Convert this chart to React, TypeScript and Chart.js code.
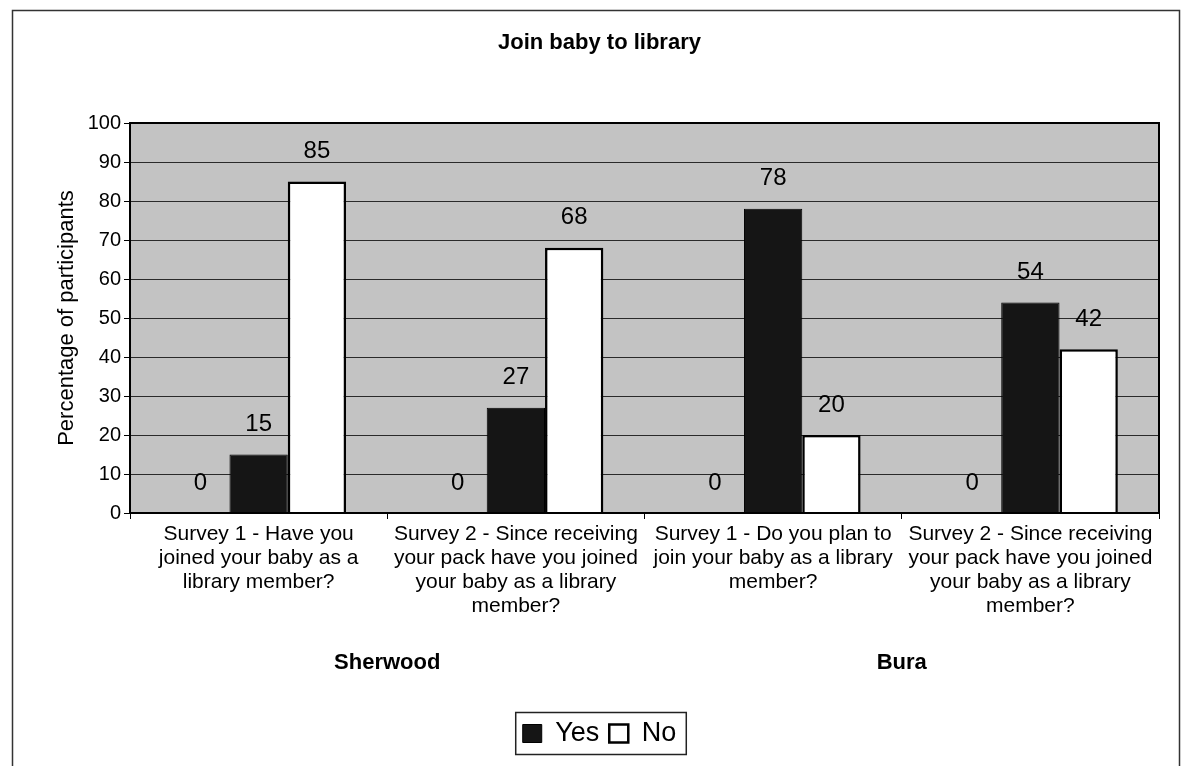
import React, { useEffect, useRef } from "react";
import { Chart, registerables } from "chart.js";

Chart.register(...registerables);

const TITLE = "Join baby to library";
const Y_TITLE = "Percentage of participants";
const CATEGORIES: string[][] = [
  ["Survey 1 - Have you", "joined your baby as a", "library member?"],
  ["Survey 2 - Since receiving", "your pack have you joined", "your baby as a library", "member?"],
  ["Survey 1 - Do you plan to", "join your baby as a library", "member?"],
  ["Survey 2 - Since receiving", "your pack have you joined", "your baby as a library", "member?"],
];
const GROUPS = ["Sherwood", "Bura"];
const BLANK_VALUES = [0, 0, 0, 0];
const YES_VALUES = [15, 27, 78, 54];
const NO_VALUES = [85, 68, 20, 42];
const Y_MIN = 0;
const Y_MAX = 100;
const Y_STEP = 10;

const FONT = '"Liberation Sans", Arial, sans-serif';

const decorPlugin = {
  id: "decor",
  beforeDraw(chart: any) {
    const { ctx, chartArea } = chart;
    ctx.save();
    ctx.fillStyle = "#ffffff";
    ctx.fillRect(0, 0, chart.width, chart.height);
    ctx.fillStyle = "#c3c3c3";
    ctx.fillRect(chartArea.left, chartArea.top, chartArea.right - chartArea.left, chartArea.bottom - chartArea.top);
    ctx.restore();
  },
  afterDatasetsDraw(chart: any) {
    const { ctx } = chart;
    ctx.save();
    ctx.font = `24px ${FONT}`;
    ctx.fillStyle = "#000";
    ctx.textAlign = "center";
    ctx.textBaseline = "middle";
    chart.data.datasets.forEach((ds: any, i: number) => {
      const meta = chart.getDatasetMeta(i);
      meta.data.forEach((el: any, j: number) => {
        ctx.fillText(String(ds.data[j]), el.x, el.y - 30);
      });
    });
    ctx.restore();
  },
  afterDraw(chart: any) {
    const { ctx, chartArea } = chart;
    ctx.save();
    ctx.strokeStyle = "#000";
    ctx.lineWidth = 2;
    ctx.strokeRect(chartArea.left, chartArea.top, chartArea.right - chartArea.left, chartArea.bottom - chartArea.top);
    // legend frame
    const boxes = chart.legend && chart.legend.legendHitBoxes;
    if (boxes && boxes.length) {
      const first = boxes[0];
      const last = boxes[boxes.length - 1];
      const cy = first.top + first.height / 2;
      ctx.lineWidth = 1.5;
      ctx.strokeStyle = "#222";
      ctx.strokeRect(first.left - 7, cy - 21, last.left + last.width + 10 - (first.left - 7), 42);
    }
    // outer frame
    ctx.lineWidth = 1.5;
    ctx.strokeStyle = "#333";
    ctx.strokeRect(12.5, 10.5, 1167, 800);
    ctx.restore();
  },
};

export default function App() {
  const ref = useRef<HTMLCanvasElement | null>(null);
  useEffect(() => {
    if (!ref.current) return;
    const chart = new Chart(ref.current, {
      type: "bar",
      data: {
        labels: CATEGORIES,
        datasets: [
          {
            label: "blank",
            data: BLANK_VALUES,
            backgroundColor: "rgba(0,0,0,0)",
            borderWidth: 0,
          },
          {
            label: "Yes",
            data: YES_VALUES,
            backgroundColor: "#151515",
            borderColor: "#000",
            borderWidth: 1,
          },
          {
            label: "No",
            data: NO_VALUES,
            backgroundColor: "#ffffff",
            borderColor: "#000",
            borderWidth: 2.5,
          },
        ],
      },
      options: {
        animation: false,
        responsive: false,
        devicePixelRatio: 1,
        events: [],
        categoryPercentage: 0.68,
        barPercentage: 1,
        layout: { padding: { left: 40, right: 23, top: 10, bottom: 9 } },
        scales: {
          x: {
            type: "category",
            offset: true,
            grid: { display: true, drawOnChartArea: false, offset: true, tickLength: 6, color: "#000", tickColor: "#000" },
            border: { display: true, color: "#000", width: 2 },
            ticks: {
              color: "#000",
              font: { family: FONT, size: 21, lineHeight: 24 / 21 },
              padding: 3,
              maxRotation: 0,
              minRotation: 0,
              autoSkip: false,
            },
            afterFit(scale: any) {
              scale.height = 105;
            },
          },
          x2: {
            type: "category",
            position: "bottom",
            labels: GROUPS,
            offset: true,
            grid: { display: false, drawTicks: false },
            border: { display: false },
            ticks: {
              color: "#000",
              font: { family: FONT, size: 22, weight: "bold" },
              padding: 32,
              maxRotation: 0,
              autoSkip: false,
            },
            afterFit(scale: any) {
              scale.height = 92;
            },
          },
          y: {
            min: Y_MIN,
            max: Y_MAX,
            ticks: {
              stepSize: Y_STEP,
              color: "#000",
              font: { family: FONT, size: 20 },
              padding: 3,
            },
            grid: { color: "#2a2a2a", lineWidth: 1, tickLength: 6, tickColor: "#000" },
            border: { display: true, color: "#000", width: 2 },
            title: {
              display: true,
              text: Y_TITLE,
              color: "#000",
              font: { family: FONT, size: 22 },
              padding: { top: 14, bottom: 0 },
            },
            afterFit(scale: any) {
              scale.width = 90;
            },
          },
        },
        plugins: {
          title: {
            display: true,
            text: TITLE,
            color: "#000",
            font: { family: FONT, size: 22, weight: "bold" },
            padding: { top: 20, bottom: 66.6 },
          },
          legend: {
            display: true,
            position: "bottom",
            labels: {
              color: "#000",
              font: { family: FONT, size: 27 },
              boxWidth: 19,
              boxHeight: 18,
              padding: 10,
              filter: (item: any) => item.datasetIndex !== 0,
            },
          },
          tooltip: { enabled: false },
        },
      } as any,
      plugins: [decorPlugin],
    });
    return () => chart.destroy();
  }, []);
  return (
    <div style={{ position: "absolute", left: 0, top: 0, width: 1182, height: 766, background: "#fff" }}>
      <canvas ref={ref} width={1182} height={766} style={{ display: "block", width: 1182, height: 766 }} />
    </div>
  );
}
